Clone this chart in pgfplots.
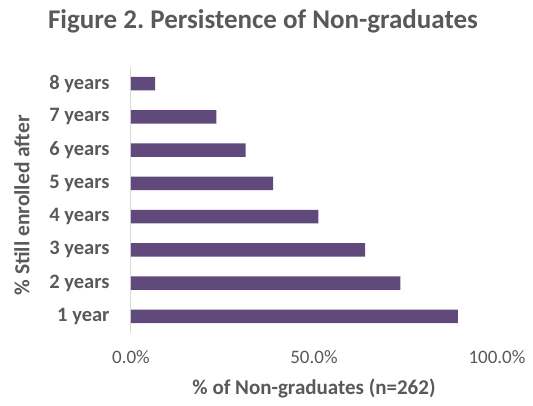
\documentclass[border=0pt]{standalone}
\usepackage{pgfplots}
\pgfplotsset{compat=1.18}
\usepackage{fontspec}
\setmainfont{Carlito}
\definecolor{barpurple}{HTML}{604A7B}
\definecolor{txtgray}{HTML}{595959}
\definecolor{axgray}{HTML}{D9D9D9}
\frenchspacing
\begin{document}
\begin{tikzpicture}[x=1pt,y=1pt]
\path[use as bounding box] (0,0) rectangle (533,406);
\begin{axis}[
  at={(131pt,73pt)}, anchor=south west,
  scale only axis, width=366pt, height=266pt,
  xbar, bar width=13.3pt,
  xmin=0, xmax=100, ymin=0.5, ymax=8.5,
  xtick={0,50,100},
  xticklabel={\pgfmathprintnumber[fixed,fixed zerofill,precision=1]{\tick}\%},
  /pgf/number format/assume math mode=true,
  ytick={1,...,8},
  yticklabels={1 year,2 years,3 years,4 years,5 years,6 years,7 years,8 years},
  yticklabel style={font=\fontsize{20.5}{22}\selectfont\bfseries, text=txtgray, xshift=-18pt},
  xticklabel style={font=\fontsize{19}{21}\selectfont, text=txtgray, anchor=center, yshift=-24pt},
  axis x line*=bottom,
  x axis line style={draw=none},
  axis y line*=left,
  y axis line style={axgray, line width=1pt, -},
  major tick length=0pt,
  xlabel={\% of Non-graduates (n=262)},
  ylabel={\% Still enrolled after},
  xlabel style={font=\fontsize{21}{23}\selectfont\bfseries, text=txtgray,
    at={(axis description cs:0.5,-0.21)}, anchor=center},
  ylabel style={font=\fontsize{21.5}{23}\selectfont\bfseries, text=txtgray,
    at={(axis description cs:-0.298,0.48)}, anchor=center, rotate=0},
  clip=false,
]
\addplot[fill=barpurple, draw=none] coordinates {
  (89.3,1) (73.6,2) (64.0,3) (51.2,4) (38.8,5) (31.3,6) (23.3,7) (6.6,8)};
\end{axis}
\node[font=\fontsize{27}{30}\selectfont\bfseries, text=txtgray] at (263,385) {Figure 2. Persistence of Non-graduates};
\end{tikzpicture}
\end{document}
